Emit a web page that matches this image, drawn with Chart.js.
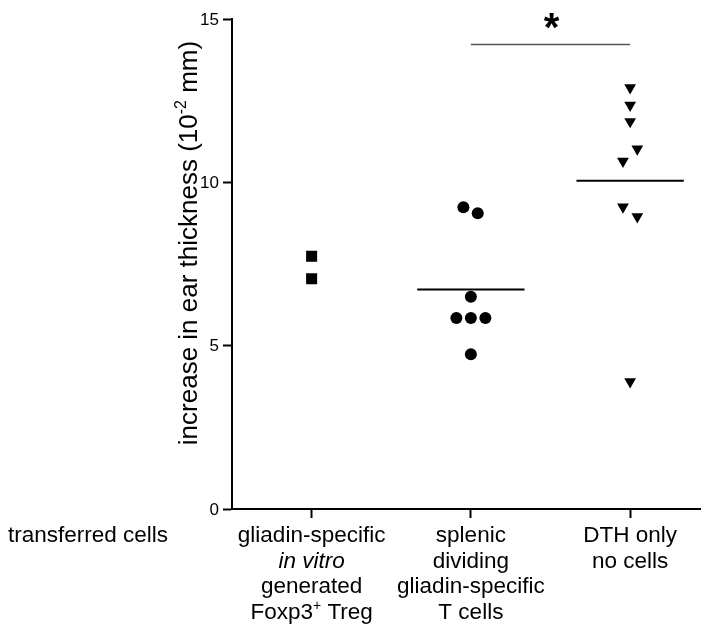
<!DOCTYPE html>
<html>
<head>
<meta charset="utf-8">
<script src="https://cdn.jsdelivr.net/npm/chart.js@4/dist/chart.umd.min.js"></script>
<style>
    html, body { margin: 0; padding: 0; background: #ffffff; }
    #wrap { width: 708px; height: 625px; }
</style>
</head>
<body>
<div id="wrap"><canvas id="chart-ear" width="708" height="625"></canvas></div>
<script>
// ear thickness scatter (DTH)

// Groups on the x axis (1, 2, 3)
const groupPositions = [1, 2, 3];
const groupLabels = [
    [[{ t: "gliadin-specific" }], [{ t: "in vitro", italic: true }], [{ t: "generated" }], [{ t: "Foxp3" }, { t: "+", sup: true }, { t: " Treg" }]],
    [[{ t: "splenic" }], [{ t: "dividing" }], [{ t: "gliadin-specific" }], [{ t: "T cells" }]],
    [[{ t: "DTH only" }], [{ t: "no cells" }]]
];
const rowLabel = "transferred cells";

// Y axis
const yTicks = [0, 5, 10, 15];
const yTickLabels = ["0", "5", "10", "15"];
const yTitle = [{ t: "increase in ear thickness (10" }, { t: "-2", sup: true }, { t: " mm)" }];

// Treg group (squares)
const tregX = [1, 1];
const tregY = [7.74, 7.05];

// Splenic dividing cells (circles)
const splenicX = [1.953, 2.043, 2, 1.909, 2, 2.091, 2];
const splenicY = [9.24, 9.05, 6.50, 5.85, 5.85, 5.85, 4.74];
const splenicMean = 6.72;

// DTH only (triangles)
const dthX = [3, 3, 3, 3.045, 2.955, 2.955, 3.045, 3];
const dthY = [12.90, 12.36, 11.86, 11.02, 10.65, 9.25, 8.95, 3.90];
const dthMean = 10.05;

// significance bar between group 2 and 3
const sigFrom = 2;
const sigTo = 3;
const sigY = 14.22;
const sigMark = "*";

const meanHalfWidth = 0.337;
const fontFamily = "'Liberation Sans', Arial, Helvetica, sans-serif";

const toPoints = (xs, ys) => xs.map((x, i) => ({ x: x, y: ys[i] }));

// draw a line made of pieces (normal / italic / superscript)
function drawPieces(ctx, pieces, size, cx, baseline) {
    const fontFor = p => {
        const s = p.sup ? Math.round(size * 0.62) : size;
        return (p.italic ? "italic " : "") + s + "px " + fontFamily;
    };
    let total = 0;
    pieces.forEach(p => {
        ctx.font = fontFor(p);
        total += ctx.measureText(p.t).width;
    });
    let x = cx - total / 2;
    pieces.forEach(p => {
        ctx.font = fontFor(p);
        ctx.fillText(p.t, x, p.sup ? baseline - size * 0.42 : baseline);
        x += ctx.measureText(p.t).width;
    });
}

const labelPlugin = {
    id: "labels",
    afterDraw(chart) {
        const ctx = chart.ctx;
        const xs = chart.scales.x;
        const ys = chart.scales.y;
        ctx.save();
        ctx.fillStyle = "#000000";

        // y tick labels
        ctx.textAlign = "right";
        ctx.textBaseline = "middle";
        ctx.font = "17px " + fontFamily;
        yTicks.forEach((v, i) => {
            ctx.fillText(yTickLabels[i], xs.left - 13, ys.getPixelForValue(v) + 1);
        });

        // y title, rotated
        ctx.textAlign = "left";
        ctx.textBaseline = "alphabetic";
        ctx.save();
        ctx.translate(xs.left - 35, (ys.top + ys.bottom) / 2 - 21);
        ctx.rotate(-Math.PI / 2);
        drawPieces(ctx, yTitle, 26, 0, 0);
        ctx.restore();

        // category labels
        const lineH = 25.7;
        groupLabels.forEach((lines, g) => {
            const cx = xs.getPixelForValue(groupPositions[g]);
            lines.forEach((pieces, li) => {
                drawPieces(ctx, pieces, 22.5, cx, ys.bottom + 33 + li * lineH);
            });
        });
        ctx.font = "22.5px " + fontFamily;
        ctx.fillText(rowLabel, 8, ys.bottom + 33);

        // significance star
        ctx.textAlign = "center";
        ctx.font = "bold 40px " + fontFamily;
        ctx.fillText(sigMark, xs.getPixelForValue((sigFrom + sigTo) / 2) + 1, ys.getPixelForValue(sigY) - 3);
        ctx.restore();
    }
};

const ctx = document.getElementById("chart-ear").getContext("2d");

new Chart(ctx, {
    type: "scatter",
    data: {
        datasets: [
            {
                label: "Treg",
                data: toPoints(tregX, tregY),
                pointStyle: "rect",
                pointRadius: 7.8,
                backgroundColor: "#000000",
                borderColor: "#000000",
                borderWidth: 0
            },
            {
                label: "splenic",
                data: toPoints(splenicX, splenicY),
                pointStyle: "circle",
                pointRadius: 6,
                backgroundColor: "#000000",
                borderColor: "#000000",
                borderWidth: 0
            },
            {
                label: "DTH",
                data: toPoints(dthX, dthY),
                pointStyle: "triangle",
                pointRotation: 180,
                pointRadius: 6.8,
                backgroundColor: "#000000",
                borderColor: "#000000",
                borderWidth: 0
            },
            {
                label: "splenic mean",
                type: "line",
                data: [{ x: 2 - meanHalfWidth, y: splenicMean }, { x: 2 + meanHalfWidth, y: splenicMean }],
                borderColor: "#000000",
                borderWidth: 2,
                pointRadius: 0
            },
            {
                label: "DTH mean",
                type: "line",
                data: [{ x: 3 - meanHalfWidth, y: dthMean }, { x: 3 + meanHalfWidth, y: dthMean }],
                borderColor: "#000000",
                borderWidth: 2,
                pointRadius: 0
            },
            {
                label: "significance",
                type: "line",
                data: [{ x: sigFrom, y: sigY }, { x: sigTo, y: sigY }],
                borderColor: "#555555",
                borderWidth: 1.5,
                pointRadius: 0
            }
        ]
    },
    options: {
        responsive: false,
        animation: false,
        events: [],
        layout: {
            padding: { left: 223, right: 0, top: 19, bottom: 107 }
        },
        plugins: {
            legend: { display: false },
            tooltip: { enabled: false }
        },
        scales: {
            x: {
                type: "linear",
                min: 0.5,
                max: 3.44,
                afterBuildTicks: scale => {
                    scale.ticks = groupPositions.map(v => ({ value: v }));
                },
                ticks: { display: false },
                grid: {
                    drawOnChartArea: false,
                    drawTicks: true,
                    tickLength: 9,
                    tickWidth: 2,
                    tickColor: "#000000"
                },
                border: { display: true, color: "#000000", width: 2 }
            },
            y: {
                type: "linear",
                min: 0,
                max: 15,
                afterBuildTicks: scale => {
                    scale.ticks = yTicks.map(v => ({ value: v }));
                },
                ticks: { display: false },
                grid: {
                    drawOnChartArea: false,
                    drawTicks: true,
                    tickLength: 9,
                    tickWidth: 2,
                    tickColor: "#000000"
                },
                border: { display: true, color: "#000000", width: 2 }
            }
        }
    },
    plugins: [labelPlugin]
});
</script>
</body>
</html>
